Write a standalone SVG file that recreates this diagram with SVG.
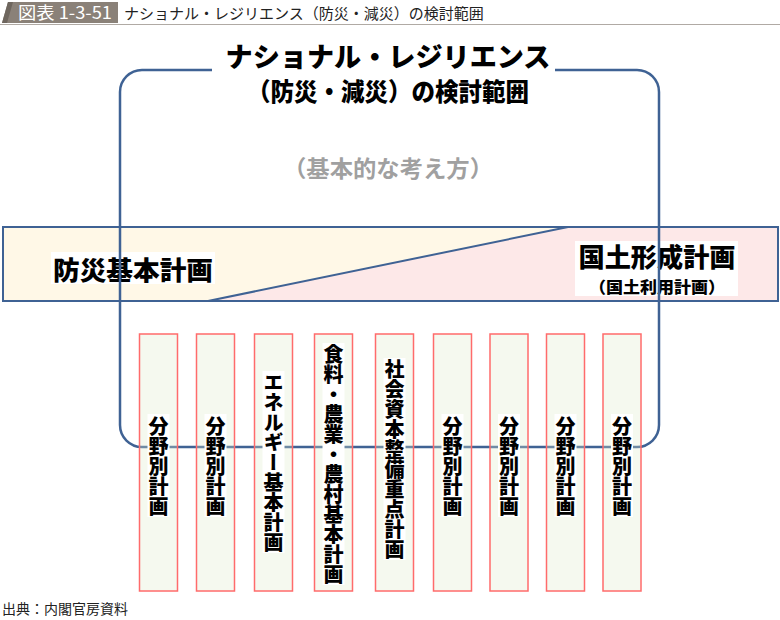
<svg xmlns="http://www.w3.org/2000/svg" width="780" height="620" viewBox="0 0 780 620">
<style>
.jp{font-family:"Noto Sans CJK JP","Noto Sans CJK SC",sans-serif;}
.b{font-weight:900;fill:#000;}
.col{fill:#deebca;fill-opacity:0.3;stroke:#ff6b6b;stroke-width:1.5;}
.vt{font-family:"Noto Sans CJK JP",sans-serif;font-weight:900;font-size:20px;writing-mode:vertical-rl;text-anchor:middle;fill:#000;}
.wbg{fill:#fff;}
.frame{fill:none;stroke:#3f6294;stroke-width:2.5;}
</style>
<rect width="780" height="620" fill="#fff"/>
<g id="header">
<polygon points="8,2 118,2 118,23 2,23" fill="#8a8178"/>
<polygon points="8,2 13,2 7,23 2,23" fill="#6e665e"/>
<text x="18" y="19" class="jp" font-size="17" fill="#fff" textLength="94" lengthAdjust="spacingAndGlyphs">図表 1-3-51</text>
<text x="124" y="19" class="jp" font-size="15" fill="#222">ナショナル・レジリエンス（防災・減災）の検討範囲</text>
<line x1="0" y1="24.5" x2="780" y2="24.5" stroke="#b0aaa4" stroke-width="1"/>
</g>
<g id="title">
<text x="388" y="67" class="jp b" font-size="27" text-anchor="middle" textLength="325" lengthAdjust="spacingAndGlyphs">ナショナル・レジリエンス</text>
<text x="388" y="101" class="jp b" font-size="25" text-anchor="middle" textLength="282" lengthAdjust="spacingAndGlyphs">（防災・減災）の検討範囲</text>
</g>
<g id="basic">
<text x="388" y="177" class="jp" font-weight="bold" font-size="23" fill="#a0a0a0" text-anchor="middle" textLength="210" lengthAdjust="spacingAndGlyphs">（基本的な考え方）</text>
</g>
<g id="band">
<polygon points="3,227 568,227 208,301 3,301" fill="#fff8e7"/>
<polygon points="568,227 778,227 778,301 208,301" fill="#fde8e8"/>
<rect x="3" y="227" width="775" height="74" fill="none" stroke="#3f6294" stroke-width="2"/>
<line x1="568" y1="227" x2="208" y2="301" stroke="#3f6294" stroke-width="2"/>
</g>
<g id="bousai">
<rect x="51" y="252" width="164" height="32" class="wbg"/>
<text x="133" y="280" class="jp b" font-size="26" text-anchor="middle" textLength="160" lengthAdjust="spacingAndGlyphs">防災基本計画</text>
</g>
<g id="kokudo">
<rect x="575" y="241" width="163" height="55" class="wbg"/>
<text x="657" y="267" class="jp b" font-size="26" text-anchor="middle" textLength="157" lengthAdjust="spacingAndGlyphs">国土形成計画</text>
<text x="657" y="293" class="jp b" font-size="16" text-anchor="middle" textLength="136" lengthAdjust="spacingAndGlyphs">（国土利用計画）</text>
</g>
<g id="connectors">
<path class="frame" d="M212,70 H142 A22,22 0 0 0 120,92 V425 A22,22 0 0 0 142,447 H637 A22,22 0 0 0 659,425 V92 A22,22 0 0 0 637,70 H555"/>
</g>
<g id="c1"><rect class="col" x="139.5" y="334" width="38" height="257"/><rect class="wbg" x="147.5" y="414" width="22" height="103"/><text class="vt" x="158.5" y="466">分野別計画</text></g>
<g id="c2"><rect class="col" x="196.5" y="334" width="38" height="257"/><rect class="wbg" x="204.5" y="414" width="22" height="103"/><text class="vt" x="215.5" y="466">分野別計画</text></g>
<g id="c3"><rect class="col" x="254.5" y="334" width="38" height="257"/><rect class="wbg" x="262.5" y="371" width="22" height="182"/><text class="vt" x="273.5" y="462">エネルギー基本計画</text></g>
<g id="c4"><rect class="col" x="314.5" y="334" width="38" height="257"/><rect class="wbg" x="322.5" y="343" width="22" height="242"/><text class="vt" x="333.5" y="464">食料・農業・農村基本計画</text></g>
<g id="c5"><rect class="col" x="375.5" y="334" width="38" height="257"/><rect class="wbg" x="383.5" y="358" width="22" height="202"/><text class="vt" x="394.5" y="459">社会資本整備重点計画</text></g>
<g id="c6"><rect class="col" x="433.5" y="334" width="38" height="257"/><rect class="wbg" x="441.5" y="414" width="22" height="103"/><text class="vt" x="452.5" y="466">分野別計画</text></g>
<g id="c7"><rect class="col" x="490" y="334" width="38" height="257"/><rect class="wbg" x="498" y="414" width="22" height="103"/><text class="vt" x="509" y="466">分野別計画</text></g>
<g id="c8"><rect class="col" x="546.5" y="334" width="38" height="257"/><rect class="wbg" x="554.5" y="414" width="22" height="103"/><text class="vt" x="565.5" y="466">分野別計画</text></g>
<g id="c9"><rect class="col" x="603" y="334" width="38" height="257"/><rect class="wbg" x="611" y="414" width="22" height="103"/><text class="vt" x="622" y="466">分野別計画</text></g>
<g id="source">
<text x="2" y="614" font-family="Liberation Serif,'Noto Sans CJK JP',serif" font-size="14" fill="#222">出典：内閣官房資料</text>
</g>
</svg>
